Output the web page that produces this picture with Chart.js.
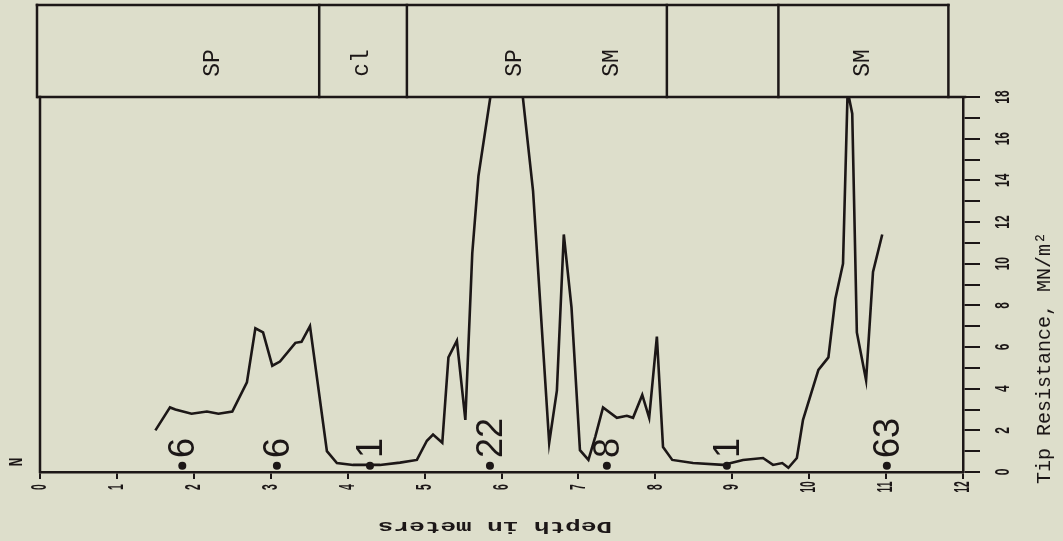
<!DOCTYPE html>
<html><head><meta charset="utf-8">
<script src="https://cdn.jsdelivr.net/npm/chart.js@4/dist/chart.umd.min.js"></script>
<style>html,body{margin:0;padding:0;background:#dddecb;}#wrap{width:1063px;height:541px;}</style>
</head><body><div id="wrap"><canvas id="c" width="1063" height="541"></canvas></div>
<script>
// Cone penetration profile: depth (m) vs tip resistance (MN/m^2)
const depth = [1.50,1.69,1.76,1.97,2.17,2.32,2.50,2.69,2.80,2.90,3.02,3.12,3.32,3.40,3.51,3.73,3.86,4.07,4.42,4.68,4.90,5.03,5.11,5.23,5.31,5.42,5.53,5.62,5.70,6.10,6.41,6.54,6.62,6.72,6.81,6.91,7.02,7.13,7.22,7.32,7.50,7.63,7.71,7.83,7.92,8.02,8.10,8.22,8.49,8.88,9.14,9.40,9.53,9.65,9.73,9.84,9.92,10.12,10.25,10.34,10.44,10.50,10.56,10.62,10.74,10.83,10.95];
const tipResistance = [2.0,3.1,3.0,2.8,2.9,2.8,2.9,4.3,6.9,6.7,5.1,5.3,6.2,6.25,7.0,1.0,0.43,0.34,0.34,0.45,0.58,1.5,1.8,1.4,5.5,6.3,2.5,10.5,14.2,24,13.5,6.0,1.4,3.9,11.4,7.9,1.05,0.58,1.7,3.1,2.6,2.7,2.6,3.7,2.6,6.5,1.2,0.58,0.43,0.34,0.58,0.67,0.34,0.43,0.2,0.67,2.5,4.9,5.5,8.3,10.0,18.3,17.2,6.7,4.4,9.6,11.4];
// SPT blow counts (N)
const sptDepth = [1.85,3.08,4.29,5.85,7.37,8.93,11.01];
const sptBlows = ["6","6","1","22","8","1","63"];
// ticks
const depthTicks = [0,1,2,3,4,5,6,7,8,9,10,11,12];
const resistanceTicks = [0,2,4,6,8,10,12,14,16,18];
// soil layers
const layerBounds = [0,3.63,4.77,8.15,9.60,11.81];
const layerLabels = ["SP","cl","SP","SM","SM"];
const layerLabelDepth = [2.25,4.19,6.18,7.44,10.70];

const INK = '#1c1717';

function txt(c, s, x, y, rot, font, align, base, sx, sy){
  c.save(); c.translate(x,y); c.scale(sx||1, sy||1); c.rotate(rot);
  c.font = font; c.textAlign = align; c.textBaseline = base; c.fillStyle = INK;
  c.fillText(s,0,0); c.restore();
}

const decor = {
  id:'decor',
  afterDraw(chart){
    const c = chart.ctx, a = chart.chartArea, xs = chart.scales.x, ys = chart.scales.y;
    c.save();
    c.strokeStyle = INK; c.lineCap = 'square';
    c.lineWidth = 2.5;
    c.beginPath(); c.moveTo(a.left, a.top); c.lineTo(a.left, a.bottom); c.stroke();
    c.beginPath(); c.moveTo(a.left-2, a.top); c.lineTo(a.right+2, a.top); c.stroke();
    const boxTop = 5;
    c.beginPath(); c.moveTo(xs.getPixelForValue(layerBounds[0])-3, boxTop);
    c.lineTo(xs.getPixelForValue(layerBounds[layerBounds.length-1]), boxTop); c.stroke();
    layerBounds.forEach((d,i)=>{
      const px = xs.getPixelForValue(d) - (i===0?3:0);
      c.beginPath(); c.moveTo(px, boxTop); c.lineTo(px, a.top); c.stroke();
    });
    layerLabels.forEach((s,i)=>{
      txt(c, s, xs.getPixelForValue(layerLabelDepth[i]), 63, -Math.PI/2, '23px "Liberation Mono"', 'center', 'middle');
    });
    sptBlows.forEach((s,i)=>{
      txt(c, s, xs.getPixelForValue(sptDepth[i])+2, 458, -Math.PI/2, '36px "Liberation Sans"', 'left', 'middle');
    });
    resistanceTicks.forEach(v=>{
      txt(c, String(v), 1003, ys.getPixelForValue(v), -Math.PI/2, 'bold 15px "Liberation Sans"', 'center', 'middle', 1.4, 0.8);
    });
    depthTicks.forEach(v=>{
      txt(c, String(v), xs.getPixelForValue(v), 487, -Math.PI/2, 'bold 16px "Liberation Sans"', 'center', 'middle', 1.4, 0.65);
    });
    txt(c, 'Tip Resistance, MN/m\u00B2', 1045, 358, -Math.PI/2, '20px "Liberation Mono"', 'center', 'middle');
    txt(c, 'Depth in meters', 495, 526, Math.PI, 'bold 26px "Liberation Mono"', 'center', 'middle', 1, 0.6);
    txt(c, 'N', 17, 462, -Math.PI/2, 'bold 20px "Liberation Mono"', 'center', 'middle', 1, 0.75);
    c.restore();
  }
};

new Chart(document.getElementById('c').getContext('2d'), {
  type:'line',
  data:{datasets:[
    {data: depth.map((d,i)=>({x:d, y:tipResistance[i]})), borderColor:INK, borderWidth:2.6, pointRadius:0, tension:0, fill:false},
    {type:'scatter', data: sptDepth.map(d=>({x:d, y:0.3})), pointRadius:4, pointBackgroundColor:INK, pointBorderWidth:0, showLine:false}
  ]},
  options:{
    responsive:false, animation:false, devicePixelRatio:1,
    layout:{padding:{left:40, top:97, right:83, bottom:62}},
    plugins:{legend:{display:false}, tooltip:{enabled:false}},
    scales:{
      x:{type:'linear', min:0, max:12, position:'bottom',
         ticks:{display:false, stepSize:1},
         grid:{drawOnChartArea:false, drawTicks:true, tickLength:7, color:INK, lineWidth:2},
         border:{display:true, color:INK, width:2.5}},
      y:{type:'linear', min:0, max:18, position:'right',
         ticks:{display:false, stepSize:1},
         grid:{drawOnChartArea:false, drawTicks:true, tickLength:17, color:INK, lineWidth:2},
         border:{display:true, color:INK, width:2.5}}
    }
  },
  plugins:[decor]
});
</script></body></html>
